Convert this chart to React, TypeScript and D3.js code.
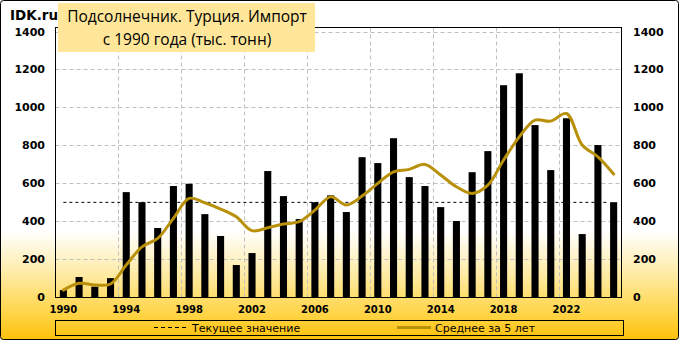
import React from "react";
import * as d3 from "d3";

const years: number[] = Array.from({ length: 36 }, (_, i) => 1990 + i);
const imports: number[] = [
  38, 107, 56, 101, 554, 501, 365, 586, 598, 438, 323, 170, 233, 665, 533, 412, 501, 537,
  449, 738, 707, 838, 633, 586, 475, 402, 659, 770, 1117, 1180, 907, 670, 943, 333, 802, 501,
];
const avg5: number[] = [
  38, 74, 65, 70, 170, 266, 310, 416, 521, 498, 465, 424, 351, 366, 386, 398, 459, 529,
  486, 533, 600, 661, 674, 700, 644, 582, 547, 591, 723, 845, 933, 928, 968, 802, 740, 649,
];
const currentValue = 500;
const yTicks: number[] = [0, 200, 400, 600, 800, 1000, 1200, 1400];
const xLabelYears: number[] = [1990, 1994, 1998, 2002, 2006, 2010, 2014, 2018, 2022];
const gridYears: number[] = [1994, 1998, 2002, 2006, 2010, 2014, 2018, 2022];
const titleLines: string[] = ["Подсолнечник. Турция. Импорт", "с 1990 года (тыс. тонн)"];
const legendLabels: string[] = ["Текущее значение", "Среднее за 5 лет"];

const W = 679;
const H = 341;
const L = 55.5;
const R = 621.5;
const T = 27.5;
const B = 297.5;

export default function App() {
  const x = d3.scaleBand<number>().domain(years).range([L, R]).padding(0);
  const y = d3.scaleLinear().domain([0, 1400]).range([297.3, 31.5]);
  const bw = x.bandwidth() * 0.45;
  const cx = (yr: number) => (x(yr) as number) + x.bandwidth() / 2;
  const line = d3
    .line<number>()
    .x((_, i) => cx(years[i]))
    .y((d) => y(d))
    .curve(d3.curveCatmullRom.alpha(0.5));
  const gold = "#B8900A";
  const labelFont = "'DejaVu Sans', Verdana, sans-serif";

  return (
    <svg width={W} height={H} style={{ position: "absolute", left: 0, top: 0 }}>
      <defs>
        <linearGradient id="bg" x1="0" y1="0" x2="0" y2="1">
          <stop offset="0" stopColor="#ffffff" />
          <stop offset="0.68" stopColor="#ffffff" />
          <stop offset="0.8" stopColor="#FFECAA" />
          <stop offset="0.92" stopColor="#FFD54A" />
          <stop offset="1" stopColor="#FFC10A" />
        </linearGradient>
      </defs>
      <rect x={0.5} y={0.5} width={W - 1} height={H - 2} rx={3} fill="url(#bg)" stroke="#000" strokeWidth={1} />

      {/* gridlines */}
      {yTicks.slice(1).map((t) => (
        <line key={"h" + t} x1={L} x2={R} y1={Math.round(y(t)) + 0.5} y2={Math.round(y(t)) + 0.5}
          stroke="#BFBFBF" strokeWidth={1} strokeDasharray="4 3" />
      ))}
      {gridYears.map((yr) => (
        <line key={"v" + yr} x1={Math.round(x(yr) as number) + 0.5} x2={Math.round(x(yr) as number) + 0.5}
          y1={T} y2={B} stroke="#BFBFBF" strokeWidth={1} strokeDasharray="4 3" />
      ))}

      {/* bars */}
      {imports.map((v, i) => (
        <rect key={"b" + i} x={cx(years[i]) - bw / 2} y={y(v)} width={bw} height={y(0) - y(v)} fill="#000" />
      ))}

      {/* current value dashed line */}
      <line x1={cx(years[0])} x2={cx(years[years.length - 1]) - 6} y1={y(currentValue)} y2={y(currentValue)}
        stroke="#000" strokeWidth={1} strokeDasharray="3 3" />

      {/* 5-year average */}
      <path d={line(avg5) as string} fill="none" stroke={gold} strokeWidth={3} strokeLinejoin="round" strokeLinecap="round" />

      {/* plot frame */}
      <rect x={L} y={T} width={R - L} height={B - T} fill="none" stroke="#000" strokeWidth={1} />

      {/* y axis labels */}
      {yTicks.map((t) => (
        <g key={"yl" + t}>
          <text x={45} y={y(t) + 4} textAnchor="end" fontFamily={labelFont} fontWeight="bold" fontSize={11}>{t}</text>
          <text x={633} y={y(t) + 4} textAnchor="start" fontFamily={labelFont} fontWeight="bold" fontSize={11}>{t}</text>
        </g>
      ))}

      {/* x axis labels */}
      {xLabelYears.map((yr) => (
        <text key={"xl" + yr} x={cx(yr)} y={313} textAnchor="middle" fontFamily={labelFont} fontWeight="bold" fontSize={10}>{yr}</text>
      ))}

      {/* legend */}
      <rect x={55.5} y={320.5} width={568} height={15} fill="none" stroke="#000" strokeWidth={1} />
      <line x1={154} x2={186} y1={327.5} y2={327.5} stroke="#000" strokeWidth={1} strokeDasharray="4 3" />
      <text x={192} y={331.5} fontFamily={labelFont} fontSize={11}>{legendLabels[0]}</text>
      <line x1={397} x2={431} y1={327.5} y2={327.5} stroke={gold} strokeWidth={3} />
      <text x={435} y={331.5} fontFamily={labelFont} fontSize={11}>{legendLabels[1]}</text>

      {/* title */}
      <rect x={58} y={3} width={257} height={49} fill="#FFE699" />
      <text x={187} y={22} textAnchor="middle" fontFamily="'Open Sans', sans-serif" fontSize={15.5}>{titleLines[0]}</text>
      <text x={187} y={45} textAnchor="middle" fontFamily="'Open Sans', sans-serif" fontSize={15.5}>{titleLines[1]}</text>

      <text x={10} y={20} fontFamily={labelFont} fontWeight="bold" fontSize={13.5}>IDK.ru</text>
    </svg>
  );
}
